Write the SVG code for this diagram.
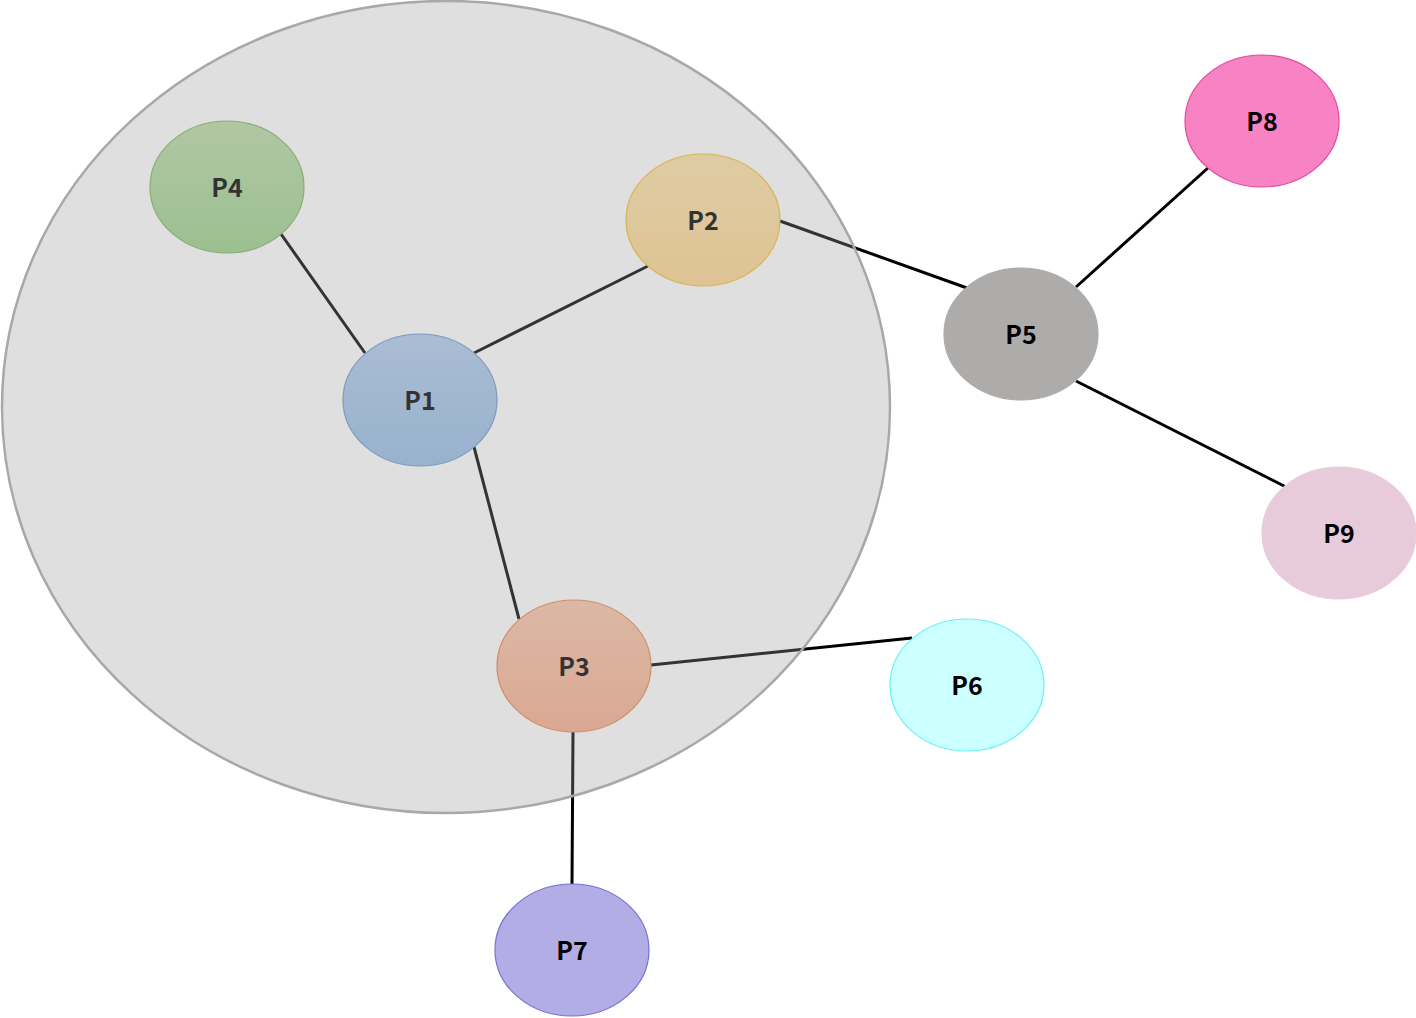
<svg xmlns="http://www.w3.org/2000/svg" width="1416" height="1018" viewBox="0 0 1416 1018">
<defs>
<linearGradient id="gP4" x1="0" y1="0" x2="0" y2="1"><stop offset="0" stop-color="#BADCA6"/><stop offset="1" stop-color="#9BD18A"/></linearGradient>
<linearGradient id="gP1" x1="0" y1="0" x2="0" y2="1"><stop offset="0" stop-color="#B0CCEE"/><stop offset="1" stop-color="#97BCE6"/></linearGradient>
<linearGradient id="gP2" x1="0" y1="0" x2="0" y2="1"><stop offset="0" stop-color="#FFE2A8"/><stop offset="1" stop-color="#FED790"/></linearGradient>
<linearGradient id="gP3" x1="0" y1="0" x2="0" y2="1"><stop offset="0" stop-color="#FAC6AA"/><stop offset="1" stop-color="#F8AE8E"/></linearGradient>
</defs>
<style>
.node ellipse{stroke-width:1.2}
.lbl{font-family:"Noto Sans CJK SC","Noto Sans","Liberation Sans",sans-serif;font-weight:bold;font-size:25px;text-anchor:middle;fill:#000}
.edge{stroke:#000;stroke-width:3;fill:none}
</style>
<rect width="1416" height="1018" fill="#fff"/>
<g id="connectors">
<line class="edge" x1="281" y1="234" x2="365" y2="353"/>
<line class="edge" x1="474" y1="353" x2="648" y2="266"/>
<line class="edge" x1="474" y1="447" x2="519" y2="619"/>
<line class="edge" x1="780" y1="221" x2="967" y2="288"/>
<line class="edge" x1="1076" y1="287" x2="1209" y2="167"/>
<line class="edge" x1="1076" y1="381" x2="1286" y2="487"/>
<line class="edge" x1="651" y1="665" x2="912" y2="638"/>
<line class="edge" x1="573" y1="732" x2="572" y2="884"/>
</g>
<g id="P4" class="node"><ellipse cx="227" cy="187" rx="77" ry="66" fill="url(#gP4)" stroke="#82B366"/><text class="lbl" x="227" y="197">P4</text></g>
<g id="P2" class="node"><ellipse cx="703" cy="220" rx="77" ry="66" fill="url(#gP2)" stroke="#F5BE2A"/><text class="lbl" x="703" y="230">P2</text></g>
<g id="P1" class="node"><ellipse cx="420" cy="400" rx="77" ry="66" fill="url(#gP1)" stroke="#6C9AD0"/><text class="lbl" x="420" y="410">P1</text></g>
<g id="P3" class="node"><ellipse cx="574" cy="666" rx="77" ry="66" fill="url(#gP3)" stroke="#E88A50"/><text class="lbl" x="574" y="676">P3</text></g>
<g id="P5" class="node"><ellipse cx="1021" cy="334" rx="77" ry="66" fill="#AEABAB" stroke="#AEABAB"/><text class="lbl" x="1021" y="344">P5</text></g>
<g id="P8" class="node"><ellipse cx="1262" cy="121" rx="77" ry="66" fill="#F783C5" stroke="#E8449C"/><text class="lbl" x="1262" y="131">P8</text></g>
<g id="P9" class="node"><ellipse cx="1339" cy="533" rx="77" ry="66" fill="#E8CBDA" stroke="#E8CBDA"/><text class="lbl" x="1339" y="543">P9</text></g>
<g id="P6" class="node"><ellipse cx="967" cy="685" rx="77" ry="66" fill="#CCFFFF" stroke="#66F2F2"/><text class="lbl" x="967" y="695">P6</text></g>
<g id="P7" class="node"><ellipse cx="572" cy="950" rx="77" ry="66" fill="#B3ADE6" stroke="#7A6FD0"/><text class="lbl" x="572" y="960">P7</text></g>
<g id="group"><ellipse cx="446" cy="407" rx="444" ry="406" fill="#9D9D9D" fill-opacity="0.325" stroke="#A8A8A8" stroke-width="2.5"/></g>
</svg>
